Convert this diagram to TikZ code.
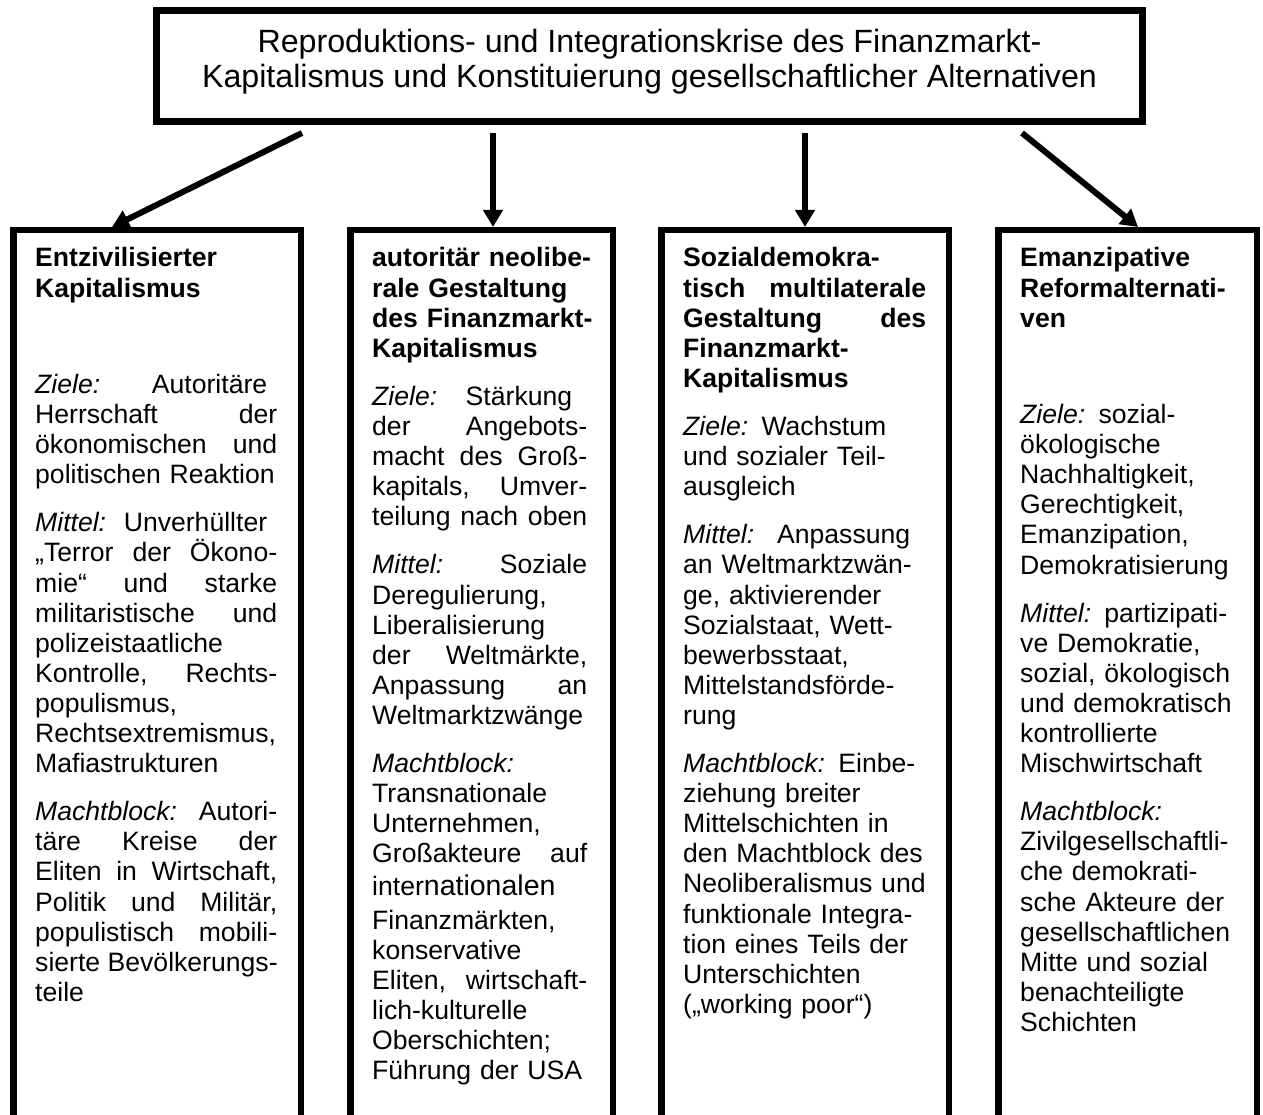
\documentclass[tikz,border=0pt]{standalone}
\usepackage{fontspec}
\setmainfont{Liberation Sans}
\usetikzlibrary{arrows.meta,calc}

% One line of a column, stretched to the full width or set flush left.
\newlength{\colw}
\newcommand{\jline}[1]{\noindent\hbox to\colw{\spaceskip=.278em plus 1fil\relax #1}\par}
\newcommand{\lline}[1]{\noindent\hbox to\colw{#1\hss}\par}
\newcommand{\pgap}{\vspace{18pt}}
\newcommand{\emptypar}{\vspace{66.2pt}}

\begin{document}
\begin{tikzpicture}[x=1pt,y=-1pt,
  mainbox/.style={draw,line width=7pt,minimum width=986pt,minimum height=111pt,
    align=center,font=\fontsize{32.2}{35}\selectfont,text depth=15pt},
  colbox/.style={draw,line width=6.5pt,anchor=north west,minimum height=950pt},
  coltext/.style={anchor=base west,inner sep=0pt,text width=#1,
    font=\fontsize{26.6}{30.1}\selectfont},
  link/.style={line width=6pt,-{Triangle[length=17pt,width=19pt]}}]

\useasboundingbox (0,0) rectangle (1263,1115);
\clip (0,0) rectangle (1263,1115);

% The frame with the title on top.
\node[mainbox] (krise) at (649.5,66) {Reproduktions- und Integrationskrise des Finanzmarkt-\\Kapitalismus und Konstituierung gesellschaftlicher Alternativen};

% The four boxes, open at the bottom of the page.
\node[colbox,minimum width=287.5pt] (ent) at (10,227) {};
\node[colbox,minimum width=262.5pt] (neo) at (347,227) {};
\node[colbox,minimum width=287.5pt] (soz) at (658,227) {};
\node[colbox,minimum width=258.5pt] (eman) at (995,227) {};

% Arrows from the title down to the boxes.
\draw[link] ($(krise.south)+(-347.5,8)$) -- ($(ent.north)+(-45,0)$);
\draw[link] ($(krise.south)+(-156.5,8)$) -- ($(neo.north)+(11.5,0)$);
\draw[link] ($(krise.south)+(155.5,8)$) -- (soz.north);
\draw[link] ($(krise.south)+(372.5,8)$) -- ($(eman.north)+(10.5,0)$);

% Text of the first box.
\node[coltext=242pt] (entText) at ($(ent.north west)+(25,40)$) {%
\setlength{\colw}{242pt}%
\lline{\textbf{Entzivilisierter}}
\lline{\textbf{Kapitalismus}}
\emptypar
\jline{\textit{Ziele:}\hfill Autoritäre\hspace{10pt}}
\jline{Herrschaft der}
\jline{ökonomischen und}
\lline{politischen Reaktion}
\pgap
\jline{\textit{Mittel:}\hfill Unverhüllter\hspace{10pt}}
\jline{„Terror der Ökono-}
\jline{mie“ und starke}
\jline{militaristische und}
\lline{polizeistaatliche}
\jline{Kontrolle, Rechts-}
\lline{populismus,}
\lline{Rechtsextremismus,}
\lline{Mafiastrukturen}
\pgap
\jline{\textit{Machtblock:}\hfill Autori-}
\jline{täre Kreise der}
\jline{Eliten in Wirtschaft,}
\jline{Politik und Militär,}
\jline{populistisch mobili-}
\jline{sierte Bevölkerungs-}
\lline{teile}};

% Text of the second box.
\node[coltext=215pt] (neoText) at ($(neo.north west)+(25,40)$) {%
\setlength{\colw}{215pt}%
\lline{\textbf{autoritär neolibe-}}
\lline{\textbf{rale Gestaltung}}
\lline{\textbf{des Finanzmarkt-}}
\lline{\textbf{Kapitalismus}}
\pgap
\jline{\textit{Ziele:}\hfill Stärkung\hspace{15pt}}
\jline{der Angebots-}
\jline{macht des Groß-}
\jline{kapitals, Umver-}
\jline{teilung nach oben}
\pgap
\jline{\textit{Mittel:}\hfill Soziale}
\lline{Deregulierung,}
\lline{Liberalisierung}
\jline{der Weltmärkte,}
\jline{Anpassung an}
\lline{Weltmarktzwänge}
\pgap
\lline{\textit{Machtblock:}}
\lline{Transnationale}
\lline{Unternehmen,}
\jline{Großakteure auf}
\vspace{3pt}
\lline{inter{\fontsize{28.5}{30.1}\selectfont nationalen}}
\vspace{3pt}
\lline{Finanzmärkten,}
\lline{konservative}
\jline{Eliten, wirtschaft-}
\lline{lich-kulturelle}
\lline{Oberschichten;}
\lline{Führung der USA}};

% Text of the third box.
\node[coltext=243pt] (sozText) at ($(soz.north west)+(25,40)$) {%
\setlength{\colw}{243pt}%
\lline{\textbf{Sozialdemokra-}}
\jline{\textbf{tisch multilaterale}}
\jline{\textbf{Gestaltung des}}
\lline{\textbf{Finanzmarkt-}}
\lline{\textbf{Kapitalismus}}
\pgap
\lline{\textit{Ziele:} Wachstum}
\lline{und sozialer Teil-}
\lline{ausgleich}
\pgap
\jline{\textit{Mittel:}\hfill Anpassung\hspace{16pt}}
\lline{an Weltmarktzwän-}
\lline{ge, aktivierender}
\lline{Sozialstaat, Wett-}
\lline{bewerbsstaat,}
\lline{Mittelstandsförde-}
\lline{rung}
\pgap
\lline{\textit{Machtblock:} Einbe-}
\lline{ziehung breiter}
\lline{Mittelschichten in}
\lline{den Machtblock des}
\lline{Neoliberalismus und}
\lline{funktionale Integra-}
\lline{tion eines Teils der}
\lline{Unterschichten}
\lline{(„working poor“)}};

% Text of the fourth box.
\node[coltext=212pt] (emanText) at ($(eman.north west)+(25,40)$) {%
\setlength{\colw}{212pt}%
\lline{\textbf{Emanzipative}}
\lline{\textbf{Reformalternati-}}
\lline{\textbf{ven}}
\emptypar
\lline{\textit{Ziele:} sozial-}
\lline{ökologische}
\lline{Nachhaltigkeit,}
\lline{Gerechtigkeit,}
\lline{Emanzipation,}
\lline{Demokratisierung}
\pgap
\lline{\textit{Mittel:} partizipati-}
\lline{ve Demokratie,}
\lline{sozial, ökologisch}
\lline{und demokratisch}
\lline{kontrollierte}
\lline{Mischwirtschaft}
\pgap
\lline{\textit{Machtblock:}}
\lline{Zivilgesellschaftli-}
\lline{che demokrati-}
\lline{sche Akteure der}
\lline{gesellschaftlichen}
\lline{Mitte und sozial}
\lline{benachteiligte}
\lline{Schichten}};

\end{tikzpicture}
\end{document}
